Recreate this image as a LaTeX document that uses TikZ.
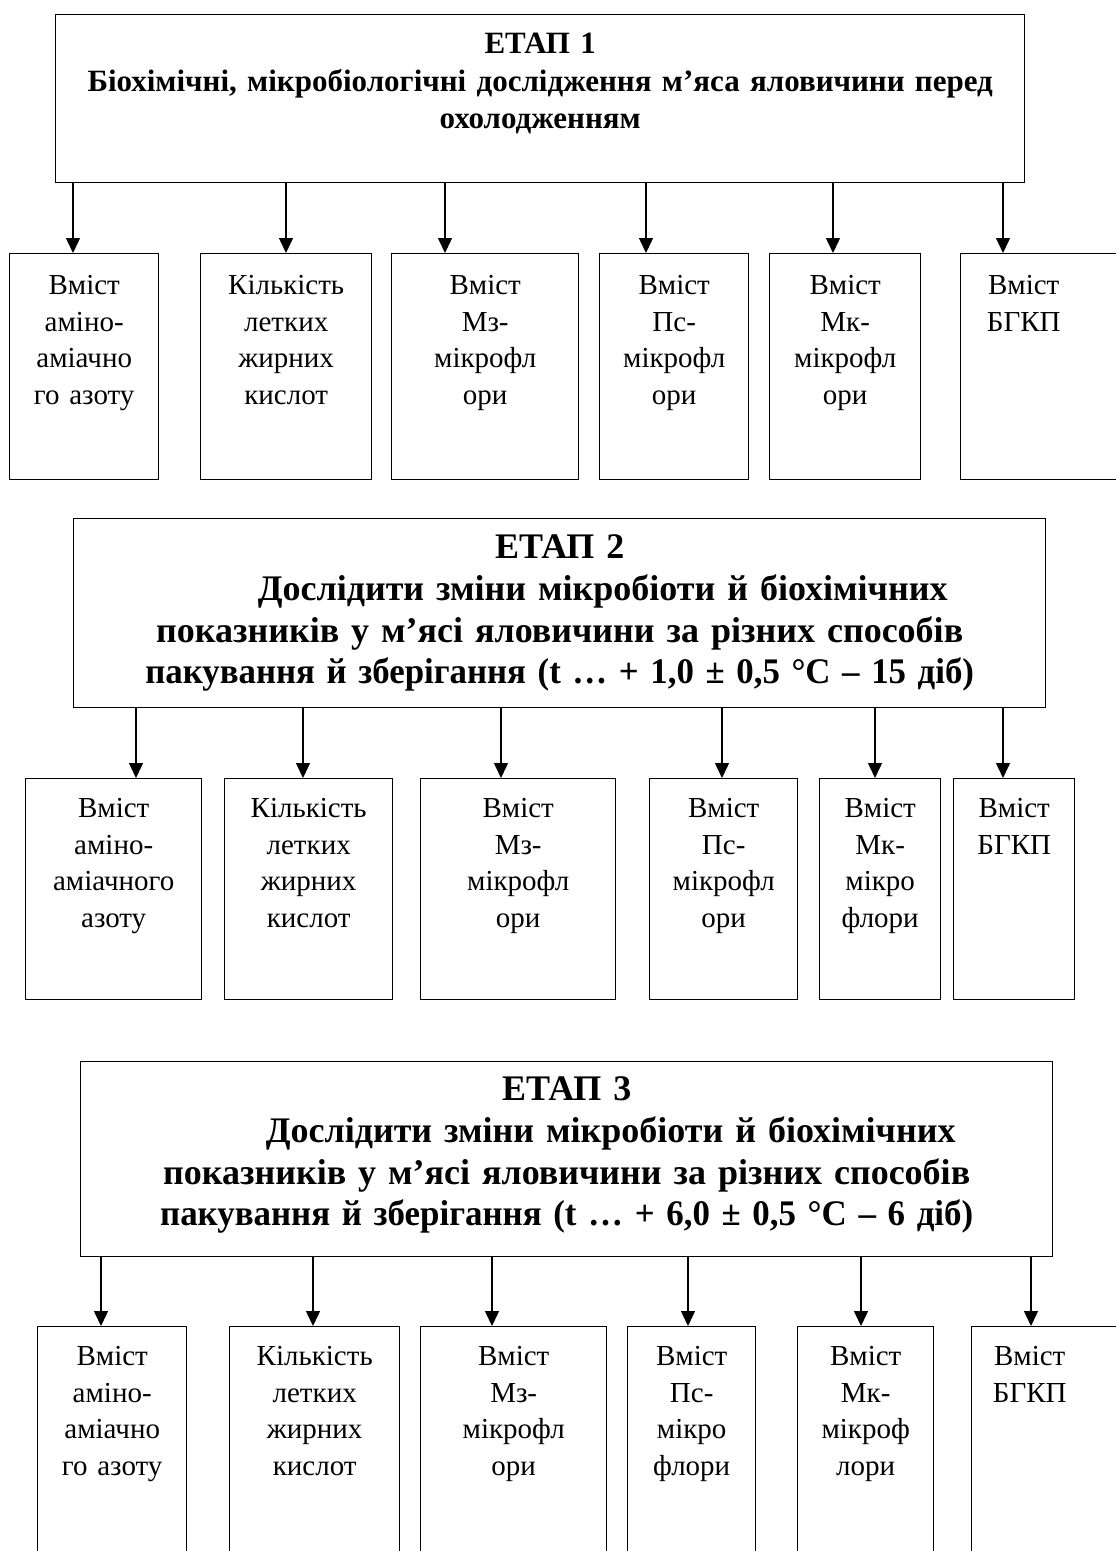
\documentclass[tikz,border=0pt]{standalone}
\usepackage{fontspec}
\setmainfont{Liberation Serif}
\usetikzlibrary{arrows.meta}

\begin{document}
\begin{tikzpicture}[
  x=1pt, y=-1pt,
  >={Triangle[length=15pt, width=14pt]},
  stagebox/.style={draw, line width=1.4pt, inner sep=0pt, anchor=north west, align=center},
  cell/.style={draw, line width=1.4pt, inner sep=0pt, anchor=north west, align=center,
    font=\fontsize{29}{36.5}\selectfont},
  arr/.style={->, line width=1.4pt},
]

% Page
\useasboundingbox (0,0) rectangle (1116,1551);
\clip (0,0) rectangle (1116,1551);

% =============================================
% Stage 1
% =============================================
\node[stagebox, text width=969pt, text height=39pt, text depth=129pt,
  font=\bfseries\fontsize{31}{37.5}\selectfont] (s1) at (55,14)
  {ЕТАП 1\\Біохімічні, мікробіологічні дослідження м’яса яловичини перед\\охолодженням};

\node[cell, text width=149pt, text height=41pt, text depth=185pt] (c11) at (9,253)
  {Вміст\\аміно-\\аміачно\\го азоту};
\node[cell, text width=171pt, text height=41pt, text depth=185pt] (c12) at (200,253)
  {Кількість\\летких\\жирних\\кислот};
\node[cell, text width=187pt, text height=41pt, text depth=185pt] (c13) at (391,253)
  {Вміст\\Мз-\\мікрофл\\ори};
\node[cell, text width=149pt, text height=41pt, text depth=185pt] (c14) at (599,253)
  {Вміст\\Пс-\\мікрофл\\ори};
\node[cell, text width=151pt, text height=41pt, text depth=185pt] (c15) at (769,253)
  {Вміст\\Мк-\\мікрофл\\ори};
\node[cell, text width=180pt, text height=41pt, text depth=185pt] (c16) at (960,253)
  {Вміст\hspace*{54pt}\mbox{}\\БГКП\hspace*{54pt}\mbox{}};

\draw[arr] (s1.south -| 73,0) -- (c11.north -| 73,0);
\draw[arr] (s1.south -| 286,0) -- (c12.north -| 286,0);
\draw[arr] (s1.south -| 445,0) -- (c13.north -| 445,0);
\draw[arr] (s1.south -| 646,0) -- (c14.north -| 646,0);
\draw[arr] (s1.south -| 833,0) -- (c15.north -| 833,0);
\draw[arr] (s1.south -| 1003,0) -- (c16.north -| 1003,0);

% =============================================
% Stage 2
% =============================================
\node[stagebox, text width=972pt, text height=40pt, text depth=149pt,
  font=\bfseries\fontsize{36}{41.7}\selectfont] (s2) at (73,518)
  {ЕТАП 2\\\hspace*{86pt}Дослідити зміни мікробіоти й біохімічних\\показників у м’ясі яловичини за різних способів\\\scalebox{0.968}[1]{пакування й зберігання (t … + 1,0 ± 0,5 °С – 15 діб)}};

\node[cell, text width=176pt, text height=39pt, text depth=182pt] (c21) at (25,778)
  {Вміст\\аміно-\\аміачного\\азоту};
\node[cell, text width=168pt, text height=39pt, text depth=182pt] (c22) at (224,778)
  {Кількість\\летких\\жирних\\кислот};
\node[cell, text width=195pt, text height=39pt, text depth=182pt] (c23) at (420,778)
  {Вміст\\Мз-\\мікрофл\\ори};
\node[cell, text width=148pt, text height=39pt, text depth=182pt] (c24) at (649,778)
  {Вміст\\Пс-\\мікрофл\\ори};
\node[cell, text width=121pt, text height=39pt, text depth=182pt] (c25) at (819,778)
  {Вміст\\Мк-\\мікро\\флори};
\node[cell, text width=121pt, text height=39pt, text depth=182pt] (c26) at (953,778)
  {Вміст\\БГКП};

\draw[arr] (s2.south -| 136,0) -- (c21.north -| 136,0);
\draw[arr] (s2.south -| 303,0) -- (c22.north -| 303,0);
\draw[arr] (s2.south -| 501,0) -- (c23.north -| 501,0);
\draw[arr] (s2.south -| 722,0) -- (c24.north -| 722,0);
\draw[arr] (s2.south -| 875,0) -- (c25.north -| 875,0);
\draw[arr] (s2.south -| 1003,0) -- (c26.north -| 1003,0);

% =============================================
% Stage 3
% =============================================
\node[stagebox, text width=972pt, text height=39pt, text depth=156pt,
  font=\bfseries\fontsize{36}{41.7}\selectfont] (s3) at (80,1061)
  {ЕТАП 3\\\hspace*{88pt}Дослідити зміни мікробіоти й біохімічних\\показників у м’ясі яловичини за різних способів\\\scalebox{0.97}[1]{пакування й зберігання (t … + 6,0 ± 0,5 °С – 6 діб)}};

\node[cell, text width=149pt, text height=39pt, text depth=250pt] (c31) at (37,1326)
  {Вміст\\аміно-\\аміачно\\го азоту};
\node[cell, text width=170pt, text height=39pt, text depth=250pt] (c32) at (229,1326)
  {Кількість\\летких\\жирних\\кислот};
\node[cell, text width=186pt, text height=39pt, text depth=250pt] (c33) at (420,1326)
  {Вміст\\Мз-\\мікрофл\\ори};
\node[cell, text width=128pt, text height=39pt, text depth=250pt] (c34) at (627,1326)
  {Вміст\\Пс-\\мікро\\флори};
\node[cell, text width=136pt, text height=39pt, text depth=250pt] (c35) at (797,1326)
  {Вміст\\Мк-\\мікроф\\лори};
\node[cell, text width=169pt, text height=39pt, text depth=250pt] (c36) at (971,1326)
  {Вміст\hspace*{53pt}\mbox{}\\БГКП\hspace*{53pt}\mbox{}};

\draw[arr] (s3.south -| 101,0) -- (c31.north -| 101,0);
\draw[arr] (s3.south -| 313,0) -- (c32.north -| 313,0);
\draw[arr] (s3.south -| 492,0) -- (c33.north -| 492,0);
\draw[arr] (s3.south -| 688,0) -- (c34.north -| 688,0);
\draw[arr] (s3.south -| 861,0) -- (c35.north -| 861,0);
\draw[arr] (s3.south -| 1031,0) -- (c36.north -| 1031,0);

\end{tikzpicture}
\end{document}
